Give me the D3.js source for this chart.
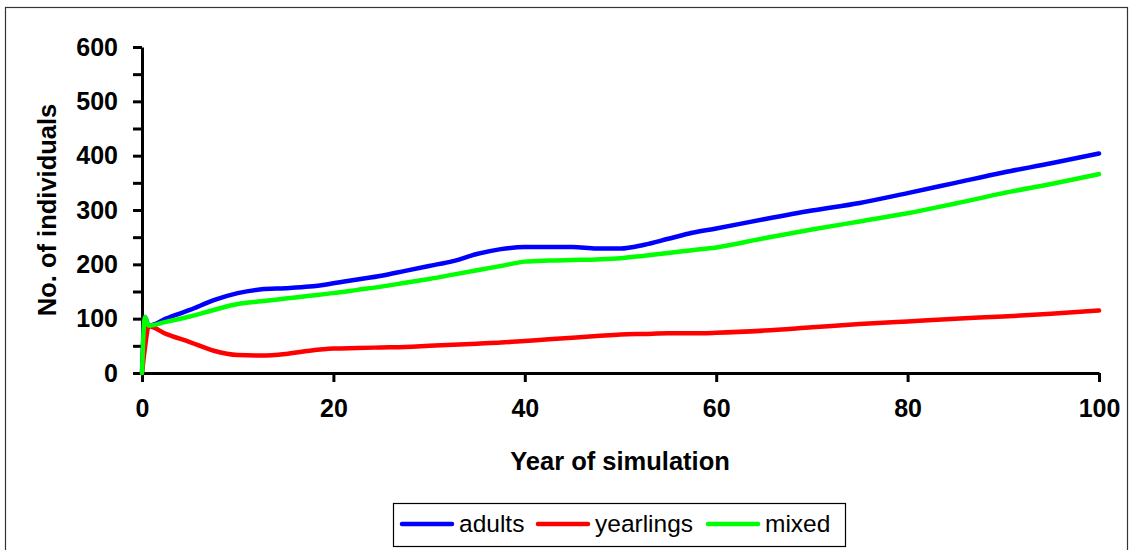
<!DOCTYPE html>
<html><head><meta charset="utf-8">
<script src="https://cdn.jsdelivr.net/npm/d3@7"></script>
<style>body{margin:0;background:#fff}svg{display:block}text{font-family:"Liberation Sans",Arial,sans-serif}</style>
</head><body>
<script>
const years = [0,0.3,0.7,2.5,5,7.5,10,12.5,15,17.5,20,22.5,25,27.5,30,32.5,35,37.5,40,42.5,45,47.5,50,52.5,55,57.5,60,65,70,75,80,85,90,95,100];
const adults = [0,103,87,100,116,134,147,154,156,159,165,172,179,188,197,206,219,228,232,232,232,229,229,236,247,258,266,283,299,313,331,350,369,386,404];
const yearlings = [0,45,86,72,57,41,33,32,35,41,45,46,47,48,50,52,54,56,59,62,65,68,71,72,73,73,74,78,84,90,95,100,104,109,115];
const mixed = [0,103,87,94,104,116,127,132,137,142,147,153,159,166,173,181,189,197,205,207,208,209,211,216,221,226,231,248,264,279,294,312,331,348,366];
const seriesNames = ["adults","yearlings","mixed"];
const seriesColors = ["#0000ff","#ff0000","#00ff00"];
const xTicks = [0,20,40,60,80,100];
const yTicks = [0,100,200,300,400,500,600];
const yMinorTicks = [50,150,250,350,450,550];

const W=1131,H=550;
const svg=d3.select("body").append("svg").attr("width",W).attr("height",H);
svg.append("rect").attr("x",5.5).attr("y",7.5).attr("width",1122).attr("height",560)
  .attr("fill","none").attr("stroke","#333").attr("stroke-width",1.2);

const x=d3.scaleLinear().domain([0,100]).range([142,1099]);
const y=d3.scaleLinear().domain([0,600]).range([373,47]);

svg.append("g").attr("transform","translate(0,373)")
  .call(d3.axisBottom(x).tickValues(xTicks).tickSize(9).tickSizeOuter(0).tickPadding(17));
svg.append("g").attr("transform","translate(142,0)")
  .call(d3.axisLeft(y).tickValues(yTicks).tickSize(9).tickSizeOuter(0).tickPadding(15));
svg.append("g").attr("transform","translate(142,0)")
  .call(d3.axisLeft(y).tickValues(yMinorTicks).tickSize(9).tickFormat(""))
  .call(g=>g.select(".domain").remove());
svg.selectAll(".domain").attr("stroke","#000").attr("stroke-width",3);
svg.selectAll(".tick line").attr("stroke","#000").attr("stroke-width",3);
svg.selectAll(".tick text").attr("fill","#000").style("font-size","25px").style("font-weight","bold")
  .style("font-family","'Liberation Sans',Arial,sans-serif");

svg.append("text").attr("x",620).attr("y",470).attr("text-anchor","middle")
  .style("font-size","25.5px").style("font-weight","bold").text("Year of simulation");
svg.append("text").attr("transform","translate(56,210) rotate(-90)").attr("text-anchor","middle")
  .style("font-size","25.5px").style("font-weight","bold").text("No. of individuals");

const data=[adults,yearlings,mixed];
const line=d3.line().x((d,i)=>x(years[i])).y(d=>y(d)).curve(d3.curveMonotoneX);
data.forEach((s,k)=>{
  svg.append("path").datum(s).attr("d",line).attr("fill","none")
    .attr("stroke",seriesColors[k]).attr("stroke-width",4.5)
    .attr("stroke-linejoin","round").attr("stroke-linecap","round");
});

// legend
const lg=svg.append("g");
lg.append("rect").attr("x",393.5).attr("y",503.5).attr("width",452).attr("height",43)
  .attr("fill","#fff").attr("stroke","#000").attr("stroke-width",1.2);
const lx=[402,538,708];
seriesNames.forEach((n,k)=>{
  lg.append("line").attr("x1",lx[k]).attr("x2",lx[k]+50).attr("y1",524).attr("y2",524)
    .attr("stroke",seriesColors[k]).attr("stroke-width",4.5).attr("stroke-linecap","round");
  lg.append("text").attr("x",lx[k]+57).attr("y",532).style("font-size","24.5px").text(n);
});
</script>
</body></html>
